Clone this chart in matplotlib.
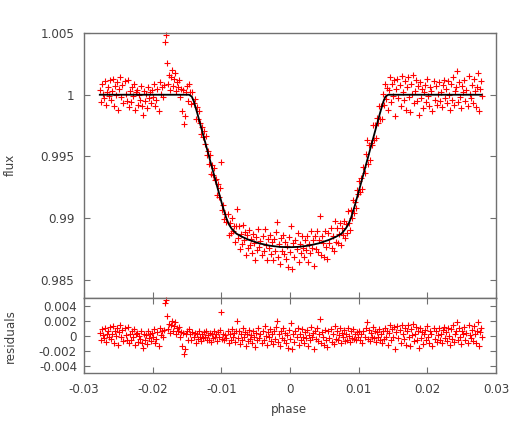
from matplotlib import pyplot as plt
import numpy as np

phaseVals = [
    -0.02770, -0.02755, -0.02740, -0.02725, -0.02710, -0.02695, -0.02680, -0.02665, -0.02650, -0.02635,
    -0.02620, -0.02605, -0.02590, -0.02575, -0.02560, -0.02545, -0.02530, -0.02515, -0.02500, -0.02485,
    -0.02470, -0.02455, -0.02440, -0.02425, -0.02410, -0.02395, -0.02380, -0.02365, -0.02350, -0.02335,
    -0.02320, -0.02305, -0.02290, -0.02275, -0.02260, -0.02245, -0.02230, -0.02215, -0.02200, -0.02185,
    -0.02170, -0.02155, -0.02140, -0.02125, -0.02110, -0.02095, -0.02080, -0.02065, -0.02050, -0.02035,
    -0.02020, -0.02005, -0.01990, -0.01975, -0.01960, -0.01945, -0.01930, -0.01915, -0.01900, -0.01885,
    -0.01870, -0.01855, -0.01840, -0.01825, -0.01810, -0.01795, -0.01780, -0.01765, -0.01750, -0.01735,
    -0.01720, -0.01705, -0.01690, -0.01675, -0.01660, -0.01645, -0.01630, -0.01615, -0.01600, -0.01585,
    -0.01570, -0.01555, -0.01540, -0.01525, -0.01510, -0.01495, -0.01480, -0.01465, -0.01450, -0.01435,
    -0.01420, -0.01405, -0.01390, -0.01375, -0.01360, -0.01345, -0.01330, -0.01315, -0.01300, -0.01285,
    -0.01270, -0.01255, -0.01240, -0.01225, -0.01210, -0.01195, -0.01180, -0.01165, -0.01150, -0.01135,
    -0.01120, -0.01105, -0.01090, -0.01075, -0.01060, -0.01045, -0.01030, -0.01015, -0.01000, -0.00985,
    -0.00970, -0.00955, -0.00940, -0.00925, -0.00910, -0.00895, -0.00880, -0.00865, -0.00850, -0.00835,
    -0.00820, -0.00805, -0.00790, -0.00775, -0.00760, -0.00745, -0.00730, -0.00715, -0.00700, -0.00685,
    -0.00670, -0.00655, -0.00640, -0.00625, -0.00610, -0.00595, -0.00580, -0.00565, -0.00550, -0.00535,
    -0.00520, -0.00505, -0.00490, -0.00475, -0.00460, -0.00445, -0.00430, -0.00415, -0.00400, -0.00385,
    -0.00370, -0.00355, -0.00340, -0.00325, -0.00310, -0.00295, -0.00280, -0.00265, -0.00250, -0.00235,
    -0.00220, -0.00205, -0.00190, -0.00175, -0.00160, -0.00145, -0.00130, -0.00115, -0.00100, -0.00085,
    -0.00070, -0.00055, -0.00040, -0.00025, -0.00010, 0.00005, 0.00020, 0.00035, 0.00050, 0.00065,
    0.00080, 0.00095, 0.00110, 0.00125, 0.00140, 0.00155, 0.00170, 0.00185, 0.00200, 0.00215,
    0.00230, 0.00245, 0.00260, 0.00275, 0.00290, 0.00305, 0.00320, 0.00335, 0.00350, 0.00365,
    0.00380, 0.00395, 0.00410, 0.00425, 0.00440, 0.00455, 0.00470, 0.00485, 0.00500, 0.00515,
    0.00530, 0.00545, 0.00560, 0.00575, 0.00590, 0.00605, 0.00620, 0.00635, 0.00650, 0.00665,
    0.00680, 0.00695, 0.00710, 0.00725, 0.00740, 0.00755, 0.00770, 0.00785, 0.00800, 0.00815,
    0.00830, 0.00845, 0.00860, 0.00875, 0.00890, 0.00905, 0.00920, 0.00935, 0.00950, 0.00965,
    0.00980, 0.00995, 0.01010, 0.01025, 0.01040, 0.01055, 0.01070, 0.01085, 0.01100, 0.01115,
    0.01130, 0.01145, 0.01160, 0.01175, 0.01190, 0.01205, 0.01220, 0.01235, 0.01250, 0.01265,
    0.01280, 0.01295, 0.01310, 0.01325, 0.01340, 0.01355, 0.01370, 0.01385, 0.01400, 0.01415,
    0.01430, 0.01445, 0.01460, 0.01475, 0.01490, 0.01505, 0.01520, 0.01535, 0.01550, 0.01565,
    0.01580, 0.01595, 0.01610, 0.01625, 0.01640, 0.01655, 0.01670, 0.01685, 0.01700, 0.01715,
    0.01730, 0.01745, 0.01760, 0.01775, 0.01790, 0.01805, 0.01820, 0.01835, 0.01850, 0.01865,
    0.01880, 0.01895, 0.01910, 0.01925, 0.01940, 0.01955, 0.01970, 0.01985, 0.02000, 0.02015,
    0.02030, 0.02045, 0.02060, 0.02075, 0.02090, 0.02105, 0.02120, 0.02135, 0.02150, 0.02165,
    0.02180, 0.02195, 0.02210, 0.02225, 0.02240, 0.02255, 0.02270, 0.02285, 0.02300, 0.02315,
    0.02330, 0.02345, 0.02360, 0.02375, 0.02390, 0.02405, 0.02420, 0.02435, 0.02450, 0.02465,
    0.02480, 0.02495, 0.02510, 0.02525, 0.02540, 0.02555, 0.02570, 0.02585, 0.02600, 0.02615,
    0.02630, 0.02645, 0.02660, 0.02675, 0.02690, 0.02705, 0.02720, 0.02735, 0.02750, 0.02765,
    0.02780, 0.02795,
]

# normalised flux (upper panel)
fluxVals = [
    1.0004, 0.9994, 1.0009, 1.0001, 0.9997, 1.0011, 0.9992, 1.0002, 1.0006, 0.9999,
    1.0012, 0.9996, 1.0003, 1.0013, 0.9991, 1.0007, 1.0000, 1.0010, 0.9988, 1.0005,
    1.0014, 0.9998, 1.0008, 0.9993, 1.0011, 1.0001, 0.9995, 1.0012, 0.9990, 1.0003,
    0.9994, 1.0006, 0.9999, 1.0009, 0.9988, 1.0002, 1.0004, 0.9992, 1.0000, 0.9996,
    1.0007, 0.9991, 0.9984, 1.0003, 0.9995, 1.0001, 0.9989, 1.0006, 0.9997, 1.0002,
    0.9993, 1.0004, 0.9998, 1.0009, 0.9991, 0.9996, 1.0005, 0.9987, 1.0010, 1.0001,
    1.0006, 0.9998, 1.0008, 1.0043, 1.0048, 1.0026, 1.0009, 1.0016, 1.0004, 1.0014,
    1.0020, 1.0007, 1.0013, 1.0018, 1.0003, 1.0010, 1.0006, 1.0012, 0.9998, 1.0005,
    0.9987, 1.0004, 0.9976, 0.9983, 1.0002, 1.0007, 0.9995, 1.0009, 1.00025, 0.99927,
    1.00022, 0.99932, 0.99966, 0.99807, 0.99899, 0.99800, 0.99870, 0.99770, 0.99680, 0.99737,
    0.99656, 0.99705, 0.99604, 0.99664, 0.99513, 0.99542, 0.99441, 0.99511, 0.99360, 0.99429,
    0.99348, 0.99407, 0.99307, 0.99316, 0.99185, 0.99275, 0.99175, 0.99245, 0.99455, 0.99065,
    0.99107, 0.98990, 0.99033, 0.98968, 0.99038, 0.98867, 0.98960, 0.98878, 0.99005, 0.98895,
    0.98935, 0.98807, 0.98940, 0.99074, 0.98839, 0.98934, 0.98750, 0.98875, 0.98790, 0.98946,
    0.98823, 0.98889, 0.98705, 0.98862, 0.98758, 0.98904, 0.98782, 0.98829, 0.98717, 0.98874,
    0.98801, 0.98659, 0.98846, 0.98743, 0.98910, 0.98767, 0.98815, 0.98702, 0.98860, 0.98738,
    0.98916, 0.98784, 0.98663, 0.98831, 0.98759, 0.98868, 0.98707, 0.98806, 0.98665, 0.98834,
    0.98733, 0.98891, 0.98970, 0.98690, 0.98789, 0.98628, 0.98838, 0.98737, 0.98867, 0.98707,
    0.98806, 0.98666, 0.98776, 0.98606, 0.98846, 0.98726, 0.98936, 0.98586, 0.98797, 0.98687,
    0.98827, 0.98747, 0.98878, 0.98648, 0.98789, 0.98720, 0.98860, 0.98761, 0.98682, 0.98823,
    0.98744, 0.98856, 0.98647, 0.98788, 0.98719, 0.98900, 0.98762, 0.98824, 0.98617, 0.98859,
    0.98751, 0.98893, 0.98725, 0.98827, 0.99020, 0.98702, 0.98855, 0.98797, 0.98690, 0.98893,
    0.98766, 0.98669, 0.98882, 0.98798, 0.98921, 0.98755, 0.98857, 0.98731, 0.98975, 0.98809,
    0.98923, 0.98796, 0.98870, 0.98964, 0.98781, 0.98918, 0.98868, 0.98978, 0.98838, 0.98954,
    0.98883, 0.99056, 0.98962, 0.98903, 0.99065, 0.98999, 0.99146, 0.99045, 0.99135, 0.99085,
    0.99225, 0.99195, 0.99305, 0.99216, 0.99326, 0.99237, 0.99418, 0.99369, 0.99519, 0.99630,
    0.99440, 0.99591, 0.99472, 0.99613, 0.99594, 0.99754, 0.99635, 0.99757, 0.99649, 0.99810,
    0.99770, 0.99910, 0.99800, 0.99908, 0.99807, 1.00005, 0.99918, 1.00088, 0.99969, 1.00055,
    0.9988, 1.0004, 1.0014, 0.9994, 1.0009, 0.9999, 1.0012, 0.9983, 1.0005, 1.0013,
    0.9997, 1.0008, 0.9991, 1.0015, 1.0002, 0.9996, 1.0011, 0.9988, 1.0006, 1.0014,
    0.9998, 0.9986, 1.0009, 1.0001, 1.0016, 0.9993, 1.0003, 1.0012, 0.9995, 1.0007,
    0.9984, 1.0010, 0.9997, 1.0005, 0.9989, 1.0002, 1.0008, 0.9994, 1.0013, 0.9999,
    0.9991, 1.0006, 1.0003, 0.9987, 1.0011, 0.9996, 1.0007, 0.9992, 1.0001, 1.0010,
    0.9995, 1.0002, 0.9990, 1.0008, 1.0012, 0.9997, 1.0005, 0.9993, 1.0011, 1.0000,
    0.9988, 1.0009, 0.9996, 1.0014, 0.9992, 1.0003, 1.0006, 1.0019, 0.9994, 1.0010,
    0.9998, 0.9989, 1.0007, 1.0002, 1.0012, 0.9995, 1.0004, 0.9991, 1.0015, 1.0001,
    0.9997, 1.0008, 0.9993, 1.0013, 1.0003, 0.9990, 1.0006, 1.0018, 0.9987, 1.0005,
    1.0011, 0.9999,
]

# data minus model (lower panel)
residVals = [
    0.0004, -0.0006, 0.0009, 0.0001, -0.0003, 0.0011, -0.0008, 0.0002, 0.0006, -0.0001,
    0.0012, -0.0004, 0.0003, 0.0013, -0.0009, 0.0007, 0.0000, 0.0010, -0.0012, 0.0005,
    0.0014, -0.0002, 0.0008, -0.0007, 0.0011, 0.0001, -0.0005, 0.0012, -0.0010, 0.0003,
    -0.0006, 0.0006, -0.0001, 0.0009, -0.0012, 0.0002, 0.0004, -0.0008, 0.0000, -0.0004,
    0.0007, -0.0009, -0.0016, 0.0003, -0.0005, 0.0001, -0.0011, 0.0006, -0.0003, 0.0002,
    -0.0007, 0.0004, -0.0002, 0.0009, -0.0009, -0.0004, 0.0005, -0.0013, 0.0010, 0.0001,
    0.0006, -0.0002, 0.0008, 0.0043, 0.0048, 0.0026, 0.0009, 0.0016, 0.0004, 0.0014,
    0.0020, 0.0007, 0.0013, 0.0018, 0.0003, 0.0010, 0.0006, 0.0012, -0.0002, 0.0005,
    -0.0013, 0.0004, -0.0024, -0.0017, 0.0002, 0.0007, -0.0005, 0.0009, 0.0003, -0.0006,
    0.0005, -0.0002, 0.0004, -0.0009, 0.0003, -0.0004, 0.0006, -0.0001, -0.0007, 0.0002,
    -0.0003, 0.0005, -0.0002, 0.0007, -0.0005, 0.0001, -0.0006, 0.0004, -0.0008, 0.0002,
    -0.0003, 0.0006, -0.0001, 0.0003, -0.0007, 0.0005, -0.0002, 0.0008, 0.0032, -0.0004,
    0.0003, -0.0006, 0.0001, -0.0003, 0.0006, -0.0009, 0.0002, -0.0005, 0.0009, -0.0001,
    0.0004, -0.0008, 0.0006, 0.0020, -0.0003, 0.0007, -0.0011, 0.0002, -0.0006, 0.0010,
    -0.0002, 0.0005, -0.0013, 0.0003, -0.0007, 0.0008, -0.0004, 0.0001, -0.0010, 0.0006,
    -0.0001, -0.0015, 0.0004, -0.0006, 0.0011, -0.0003, 0.0002, -0.0009, 0.0007, -0.0005,
    0.0013, 0.0000, -0.0012, 0.0005, -0.0002, 0.0009, -0.0007, 0.0003, -0.0011, 0.0006,
    -0.0004, 0.0012, 0.0020, -0.0008, 0.0002, -0.0014, 0.0007, -0.0003, 0.0010, -0.0006,
    0.0004, -0.0010, 0.0001, -0.0016, 0.0008, -0.0004, 0.0017, -0.0018, 0.0003, -0.0008,
    0.0006, -0.0002, 0.0011, -0.0012, 0.0002, -0.0005, 0.0009, -0.0001, -0.0009, 0.0005,
    -0.0003, 0.0008, -0.0013, 0.0001, -0.0006, 0.0012, -0.0002, 0.0004, -0.0017, 0.0007,
    -0.0004, 0.0010, -0.0007, 0.0003, 0.0022, -0.0010, 0.0005, -0.0001, -0.0012, 0.0008,
    -0.0005, -0.0015, 0.0006, -0.0003, 0.0009, -0.0008, 0.0002, -0.0011, 0.0013, -0.0004,
    0.0007, -0.0006, 0.0001, 0.0010, -0.0009, 0.0004, -0.0002, 0.0008, -0.0007, 0.0003,
    -0.0005, 0.0011, 0.0000, -0.0008, 0.0006, -0.0003, 0.0009, -0.0004, 0.0002, -0.0006,
    0.0005, -0.0001, 0.0007, -0.0005, 0.0003, -0.0009, 0.0006, -0.0002, 0.0010, 0.0018,
    -0.0004, 0.0008, -0.0007, 0.0004, -0.0001, 0.0012, -0.0003, 0.0006, -0.0008, 0.0005,
    -0.0002, 0.0009, -0.0005, 0.0003, -0.0010, 0.0007, -0.0004, 0.0011, -0.0002, 0.0006,
    -0.0012, 0.0004, 0.0014, -0.0006, 0.0009, -0.0001, 0.0012, -0.0017, 0.0005, 0.0013,
    -0.0003, 0.0008, -0.0009, 0.0015, 0.0002, -0.0004, 0.0011, -0.0012, 0.0006, 0.0014,
    -0.0002, -0.0014, 0.0009, 0.0001, 0.0016, -0.0007, 0.0003, 0.0012, -0.0005, 0.0007,
    -0.0016, 0.0010, -0.0003, 0.0005, -0.0011, 0.0002, 0.0008, -0.0006, 0.0013, -0.0001,
    -0.0009, 0.0006, 0.0003, -0.0013, 0.0011, -0.0004, 0.0007, -0.0008, 0.0001, 0.0010,
    -0.0005, 0.0002, -0.0010, 0.0008, 0.0012, -0.0003, 0.0005, -0.0007, 0.0011, 0.0000,
    -0.0012, 0.0009, -0.0004, 0.0014, -0.0008, 0.0003, 0.0006, 0.0019, -0.0006, 0.0010,
    -0.0002, -0.0011, 0.0007, 0.0002, 0.0012, -0.0005, 0.0004, -0.0009, 0.0015, 0.0001,
    -0.0003, 0.0008, -0.0007, 0.0013, 0.0003, -0.0010, 0.0006, 0.0018, -0.0013, 0.0005,
    0.0011, -0.0001,
]

# fitted transit model
modelPhase = [-0.0277, -0.0147, -0.0143, -0.0140, -0.0135, -0.0125, -0.0115, -0.0105,
              -0.0098, -0.0093, -0.0089, -0.0085, -0.0078, -0.0070, -0.0060, -0.0045,
              -0.0030, -0.0015, -0.0002, 0.0012, 0.0027, 0.0042, 0.0057, 0.0067,
              0.0075, 0.0081, 0.0085, 0.0089, 0.0094, 0.0101, 0.0111, 0.0121,
              0.0131, 0.0136, 0.0139, 0.0143, 0.0279]
modelFlux = [1.0, 1.0, 0.99985, 0.99945, 0.99850, 0.99645, 0.99440, 0.99235,
             0.99095, 0.99005, 0.98950, 0.98915, 0.98875, 0.98850, 0.98825, 0.98797,
             0.98778, 0.98768, 0.98765, 0.98768, 0.98778, 0.98797, 0.98825, 0.98850,
             0.98875, 0.98915, 0.98950, 0.99005, 0.99095, 0.99235, 0.99440, 0.99645,
             0.99850, 0.99945, 0.99985, 1.0, 1.0]

fluxTicks = [0.985, 0.99, 0.995, 1, 1.005]
fluxTickLabels = ['0.985', '0.99', '0.995', '1', '1.005']
residTicks = [-0.004, -0.002, 0, 0.002, 0.004]
residTickLabels = ['-0.004', '-0.002', '0', '0.002', '0.004']
phaseTicks = [-0.03, -0.02, -0.01, 0, 0.01, 0.02, 0.03]
phaseTickLabels = ['-0.03', '-0.02', '-0.01', '0', '0.01', '0.02', '0.03']

textCol = '#404040'
frameCol = '#707070'
fSize = 8.6

def styleAxes(ax):
    for s in ax.spines.values():
        s.set_color(frameCol)
        s.set_linewidth(1.0)
    ax.tick_params(direction='in', length=4, width=0.8, color=frameCol,
                   labelcolor=textCol, labelsize=fSize, right=True)

fig = plt.figure(figsize=(5.1, 4.22), dpi=100)
W, H = 510.0, 422.0
axTop = fig.add_axes([84/W, 124/H, 412/W, 265/H])
axBot = fig.add_axes([84/W, 49/H, 412/W, 75/H])

# upper panel: data + model
axTop.plot(phaseVals, fluxVals, '+', color='#ff0000', ms=5, mew=0.8, clip_on=False)
axTop.plot(modelPhase, modelFlux, '-', color='black', lw=1.3)
axTop.set_xlim(-0.03, 0.03)
axTop.set_ylim(0.98354, 1.005)
axTop.set_xticks(phaseTicks)
axTop.set_xticklabels([])
axTop.set_yticks(fluxTicks)
axTop.set_yticklabels(fluxTickLabels)
styleAxes(axTop)
axTop.tick_params(axis='y', pad=7)

# lower panel: residuals
axBot.plot(phaseVals, residVals, '+', color='#ff0000', ms=5, mew=0.8, clip_on=False)
axBot.set_xlim(-0.03, 0.03)
axBot.set_ylim(-0.00493, 0.00503)
axBot.set_xticks(phaseTicks)
axBot.set_xticklabels(phaseTickLabels)
axBot.set_yticks(residTicks)
axBot.set_yticklabels(residTickLabels)
styleAxes(axBot)
axBot.tick_params(axis='x', top=True, pad=7)
axBot.tick_params(axis='y', pad=5)

fig.text(10/W, 1 - 165/H, 'flux', rotation=90, ha='center', va='center',
         fontsize=fSize, color=textCol)
fig.text(10/W, 1 - 336/H, 'residuals', rotation=90, ha='center', va='center',
         fontsize=fSize, color=textCol)
fig.text(289/W, 1 - 410/H, 'phase', ha='center', va='center',
         fontsize=fSize, color=textCol)

fig.savefig('out.png', dpi=100)
